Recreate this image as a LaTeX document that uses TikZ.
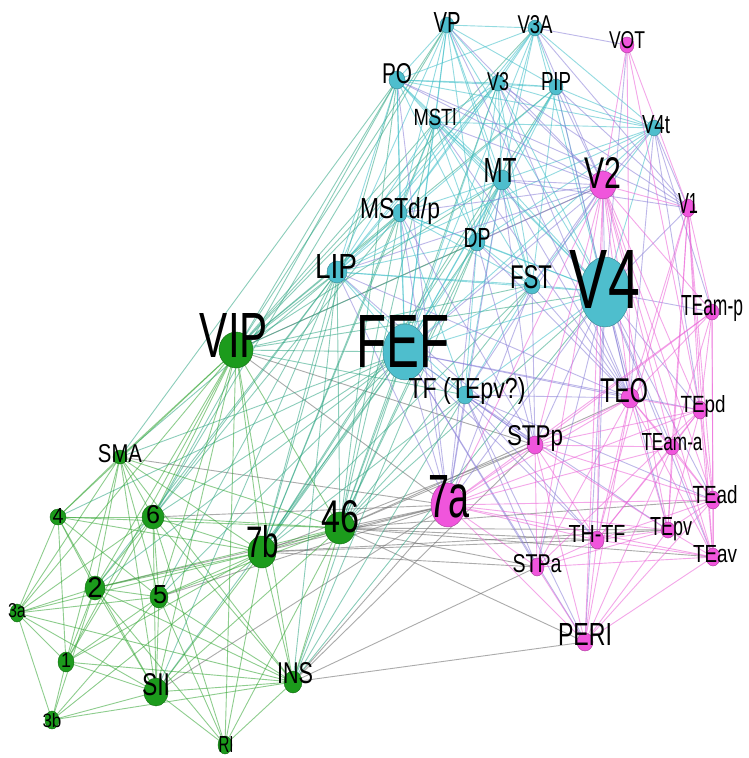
\documentclass[tikz,border=0pt]{standalone}
\usepackage{fontspec}
\setmainfont{Liberation Sans}
\usepackage{graphicx}
\usetikzlibrary{shapes.geometric,backgrounds}
\definecolor{ncyan}{RGB}{78,190,205}
\definecolor{ngreen}{RGB}{28,155,28}
\definecolor{nmag}{RGB}{240,85,220}
\definecolor{cEcc}{RGB}{60,190,200}
\definecolor{cEgg}{RGB}{50,165,50}
\definecolor{cEmm}{RGB}{235,95,215}
\definecolor{cEcg}{RGB}{45,165,130}
\definecolor{cEcm}{RGB}{135,125,215}
\definecolor{cEgm}{RGB}{115,115,115}
\tikzset{
  ar/.style={ellipse, inner sep=0pt, line width=0.4pt},
  nc/.style={ar, fill=ncyan, draw=ncyan!70!black},
  ng/.style={ar, fill=ngreen, draw=ngreen!70!black},
  nm/.style={ar, fill=nmag, draw=nmag!70!black},
  lbl/.style={anchor=base, inner sep=0pt, text=black},
  edgebase/.style={line width=0.9pt, opacity=0.55},
  ecc/.style={edgebase, draw=cEcc},
  egg/.style={edgebase, draw=cEgg},
  emm/.style={edgebase, draw=cEmm},
  ecg/.style={edgebase, draw=cEcg},
  ecm/.style={edgebase, draw=cEcm},
  egm/.style={edgebase, draw=cEgm, opacity=0.6},
}
\newcommand\area[6]{\node[#6, minimum width=#4pt, minimum height=#5pt] (#1) at (#2,#3) {};}
\newcommand\lab[6]{\node[lbl] (#1-l) at (#2,#3) {\resizebox{#4pt}{#5pt}{#6}};}
\begin{document}
\begin{tikzpicture}[x=1pt,y=-1pt]
\useasboundingbox (0,0) rectangle (749,758);
% nodes
\area{VP}{447}{25}{14}{16}{nc}
\area{V3A}{535}{28}{14}{16}{nc}
\area{VOT}{627}{45}{14}{16}{nm}
\area{PO}{397}{80}{16}{18}{nc}
\area{V3}{498}{83}{14}{16}{nc}
\area{PIP}{556}{87}{14}{16}{nc}
\area{MSTl}{435}{122}{12}{14}{nc}
\area{V4t}{654}{128}{14}{16}{nc}
\area{MT}{502}{180}{18}{20}{nc}
\area{V2}{603}{185}{26}{28}{nm}
\area{V1}{688}{208}{14}{18}{nm}
\area{MSTdp}{400}{213}{14}{18}{nc}
\area{DP}{477}{242}{16}{18}{nc}
\area{FST}{532}{285}{16}{18}{nc}
\area{V4}{605}{292}{50}{70}{nc}
\area{TEamp}{712}{312}{14}{16}{nm}
\area{LIP}{337}{272}{20}{22}{nc}
\area{VIP}{236}{350}{34}{36}{ng}
\area{FEF}{405}{352}{44}{56}{nc}
\area{TF}{465}{395}{16}{18}{nc}
\area{TEO}{630}{398}{18}{20}{nm}
\area{TEpd}{700}{410}{14}{18}{nm}
\area{STPp}{535}{445}{16}{18}{nm}
\area{TEama}{672}{447}{14}{16}{nm}
\area{SMA}{120}{457}{14}{14}{ng}
\area{TEad}{713}{500}{14}{18}{nm}
\area{n7a}{448}{505}{34}{44}{nm}
\area{n4}{58}{517}{16}{16}{ng}
\area{n6}{153}{517}{22}{24}{ng}
\area{n46}{340}{528}{30}{32}{ng}
\area{TEpv}{668}{530}{14}{16}{nm}
\area{THTF}{597}{540}{14}{18}{nm}
\area{n7b}{262}{552}{28}{32}{ng}
\area{TEav}{713}{557}{14}{18}{nm}
\area{STPa}{537}{567}{14}{18}{nm}
\area{n2}{95}{588}{20}{24}{ng}
\area{n5}{159}{597}{18}{22}{ng}
\area{n3a}{17}{613}{14}{18}{ng}
\area{PERI}{585}{642}{16}{18}{nm}
\area{n1}{66}{662}{16}{20}{ng}
\area{INS}{293}{682}{18}{22}{ng}
\area{SII}{156}{692}{24}{28}{ng}
\area{n3b}{52}{720}{14}{18}{ng}
\area{RI}{225}{745}{14}{18}{ng}
% labels
\lab{VP}{447}{32}{27}{20}{VP}
\lab{V3A}{535}{33}{35}{18}{V3A}
\lab{VOT}{627}{48}{36}{17}{VOT}
\lab{PO}{397}{83}{30}{20}{PO}
\lab{V3}{498}{90}{22}{18}{V3}
\lab{PIP}{556}{90}{30}{18}{PIP}
\lab{MSTl}{435}{125}{43}{17}{MSTl}
\lab{V4t}{656}{133}{28}{18}{V4t}
\lab{MT}{500}{182}{33}{24}{MT}
\lab{V2}{603}{188}{37}{31}{V2}
\lab{V1}{688}{213}{20}{20}{V1}
\lab{MSTdp}{400}{218}{80}{21}{MSTd/p}
\lab{DP}{477}{247}{27}{19}{DP}
\lab{FST}{531}{288}{42}{23}{FST}
\lab{V4}{605}{308}{70}{58}{V4}
\lab{TEamp}{712}{315}{62}{20}{TEam-p}
\lab{LIP}{336}{278}{42}{24}{LIP}
\lab{VIP}{234}{357}{68}{44}{VIP}
\lab{FEF}{403}{367}{93}{52}{FEF}
\lab{TF}{467}{398}{117}{21}{TF (TEpv?)}
\lab{TEO}{624}{402}{48}{24}{TEO}
\lab{TEpd}{703}{412}{45}{17}{TEpd}
\lab{STPp}{535}{445}{56}{20}{STPp}
\lab{TEama}{672}{450}{61}{17}{TEam-a}
\lab{SMA}{120}{462}{44}{18}{SMA}
\lab{TEad}{715}{503}{45}{18}{TEad}
\lab{n7a}{449}{517}{42}{42}{7a}
\lab{n4}{58}{523}{11}{15}{4}
\lab{n6}{153}{523}{14}{18}{6}
\lab{n46}{341}{532}{38}{32}{46}
\lab{TEpv}{671}{535}{42}{18}{TEpv}
\lab{THTF}{597}{542}{57}{17}{TH-TF}
\lab{n7b}{263}{557}{33}{32}{7b}
\lab{TEav}{715}{562}{44}{17}{TEav}
\lab{STPa}{537}{572}{49}{18}{STPa}
\lab{n2}{95}{597}{15}{20}{2}
\lab{n5}{160}{603}{14}{18}{5}
\lab{n3a}{17}{617}{18}{14}{3a}
\lab{PERI}{585}{645}{54}{22}{PERI}
\lab{n1}{66}{667}{10}{14}{1}
\lab{INS}{295}{683}{36}{21}{INS}
\lab{SII}{156}{695}{28}{22}{SII}
\lab{n3b}{52}{727}{19}{14}{3b}
\lab{RI}{226}{752}{15}{16}{RI}
% edges
\begin{scope}[on background layer]
\fill[white] (0,0) rectangle (749,758);
\foreach \a/\b in {n46/n7a, n46/STPp, n46/STPa, n46/THTF, n46/TEav, n46/TEO, n46/PERI, n46/TEpv,
  n7b/n7a, n7b/STPa, n7b/STPp, n7b/THTF, n7b/TEpv, INS/PERI, INS/STPa, INS/n7a, INS/STPp,
  VIP/n7a, VIP/STPp, VIP/V2, n6/n7a, n5/n7a, SII/n7a, SMA/n7a, n2/n7a, n46/TEad}
  \draw[egm] (\a.center) -- (\b.center);
\foreach \a/\b in {VIP/LIP, VIP/FEF, VIP/MSTdp, VIP/PO, VIP/MT, VIP/DP, VIP/V3A, VIP/VP, VIP/FST, VIP/MSTl,
  VIP/PIP, VIP/V3, VIP/TF, VIP/V4, LIP/n46, LIP/n7b, LIP/n6, LIP/SMA, LIP/n5, LIP/n2, LIP/INS,
  FEF/n46, FEF/n6, FEF/SMA, FEF/n7b, FEF/n5, FEF/n2, FEF/INS, FEF/n4, FEF/SII,
  TF/n46, TF/INS, TF/n7b, MT/n46, PO/n46, PO/n7b, PO/n6, PO/SMA, MSTdp/n46, MSTdp/n7b, MSTdp/n6,
  DP/n46, DP/n7b, FST/n46, FST/n7b, V4/n46, MSTl/n7b, MSTl/n46, VP/n6, V3/n46, PIP/n7b, DP/INS,
  MT/n7b, V4/INS, LIP/SII}
  \draw[ecg] (\a.center) -- (\b.center);
\foreach \a/\b in {VIP/SMA, VIP/n4, VIP/n6, VIP/n2, VIP/n5, VIP/n7b, VIP/n46, VIP/SII, VIP/INS, VIP/n1, VIP/n3a, VIP/RI,
  SMA/n4, SMA/n6, SMA/n2, SMA/n5, SMA/n7b, SMA/n46, SMA/n1, SMA/SII, SMA/INS, SMA/n3a,
  n4/n6, n4/n2, n4/n5, n4/n3a, n4/n7b, n4/SII, n4/n46, n4/n1,
  n6/n46, n6/n7b, n6/n2, n6/n5, n6/SII, n6/n3a, n6/n1, n6/INS, n6/RI,
  n46/n7b, n46/INS, n46/SII, n46/n5, n46/n2, n46/RI,
  n7b/n2, n7b/n5, n7b/SII, n7b/INS, n7b/RI, n7b/n3a, n7b/n1, n7b/n3b,
  n2/n5, n2/n3a, n2/n1, n2/SII, n2/n3b, n2/INS, n2/RI,
  n5/n3a, n5/n1, n5/SII, n5/INS, n5/RI, n5/n3b,
  n3a/n1, n3a/n3b, n3a/SII, n3a/INS, n1/n3b, n1/SII, n1/INS,
  SII/INS, SII/RI, SII/n3b, n3b/INS, INS/RI}
  \draw[egg] (\a.center) -- (\b.center);
\foreach \a/\b in {VP/V3A, VP/PO, VP/V3, VP/MSTl, VP/MT, VP/LIP, VP/DP, VP/MSTdp, VP/FST, VP/V4, VP/PIP, VP/FEF,
  V3A/PO, V3A/V3, V3A/PIP, V3A/MT, V3A/V4t, V3A/DP, V3A/LIP, V3A/V4, V3A/MSTdp, V3A/FEF,
  PO/V3, PO/MSTl, PO/LIP, PO/MSTdp, PO/DP, PO/MT, PO/V4t, PO/V4, PO/FEF, PO/PIP,
  V3/PIP, V3/MT, V3/LIP, V3/MSTdp, V3/DP, V3/FST, V3/V4, V3/V4t, V3/FEF, V3/MSTl,
  PIP/V4t, PIP/MT, PIP/DP, PIP/LIP, PIP/V4, PIP/FST, PIP/FEF,
  MSTl/MT, MSTl/MSTdp, MSTl/LIP, MSTl/FST, MSTl/DP, MSTl/FEF, MSTl/V4, MSTl/V4t,
  V4t/MT, V4t/V4, V4t/FST, V4t/DP, V4t/FEF, V4t/LIP,
  MT/MSTdp, MT/DP, MT/LIP, MT/FST, MT/V4, MT/FEF, MT/TF,
  MSTdp/LIP, MSTdp/DP, MSTdp/FST, MSTdp/FEF, MSTdp/V4, MSTdp/TF,
  DP/LIP, DP/FST, DP/V4, DP/FEF, DP/TF, LIP/FST, LIP/FEF, LIP/V4, LIP/TF,
  FST/V4, FST/FEF, FST/TF, V4/FEF, V4/TF, FEF/TF}
  \draw[ecc] (\a.center) -- (\b.center);
\foreach \a/\b in {V3A/VOT, V3A/V2, VP/V2, V3/V2, PIP/V2, PO/V2, MSTl/V2, V4t/V2, V4t/V1, MT/V2, MT/V1, MT/TEO,
  MT/STPp, DP/V2, DP/TEO, DP/n7a, LIP/n7a, LIP/V2, FST/STPp, FST/TEO, FST/V2, FST/n7a,
  V4/V2, V4/V1, V4/TEO, V4/TEpd, V4/TEamp, V4/TEama, V4/VOT, V4/STPp, V4/THTF, V4/TEpv, V4/PERI,
  V4/TEad, V4/TEav, V4/n7a, V4/STPa, FEF/n7a, FEF/STPp, FEF/TEO, FEF/V2, FEF/STPa, FEF/TEpd,
  FEF/THTF, FEF/PERI, TF/n7a, TF/STPp, TF/TEO, TF/THTF, TF/PERI, TF/STPa, TF/TEpv, TF/TEad, TF/V2,
  MSTdp/n7a, MSTdp/STPp, MSTdp/V2, V3/V1, PIP/V1, V4t/TEO, MT/n7a, PO/n7a, PO/V1, MSTl/TEO,
  V3A/V1, DP/STPp, LIP/STPp, LIP/TEO, V3/TEO, PIP/TEO, V4t/TEpd, V4t/TEamp, VP/TEO}
  \draw[ecm] (\a.center) -- (\b.center);
\foreach \a/\b in {VOT/V2, VOT/V1, VOT/TEO, VOT/TEpd,
  V2/V1, V2/TEO, V2/TEpd, V2/TEamp, V2/STPp, V2/n7a, V2/THTF, V2/TEpv, V2/TEama, V2/PERI, V2/TEad, V2/STPa, V2/TEav,
  V1/TEamp, V1/TEO, V1/TEpd, V1/TEama, V1/TEad, V1/TEav, V1/TEpv, V1/THTF,
  TEamp/TEO, TEamp/TEpd, TEamp/TEama, TEamp/TEad, TEamp/TEav, TEamp/n7a, TEamp/STPp,
  TEO/TEpd, TEO/STPp, TEO/TEama, TEO/n7a, TEO/TEad, TEO/THTF, TEO/TEpv, TEO/TEav, TEO/STPa, TEO/PERI,
  TEpd/TEama, TEpd/TEad, TEpd/TEav, TEpd/TEpv, TEpd/STPp, TEpd/n7a, TEpd/THTF, TEpd/STPa,
  TEama/TEad, TEama/TEpv, TEama/TEav, TEama/STPp, TEama/n7a, TEama/THTF, TEama/PERI,
  STPp/n7a, STPp/STPa, STPp/THTF, STPp/TEad, STPp/TEpv, STPp/PERI,
  n7a/TEad, n7a/TEpv, n7a/THTF, n7a/STPa, n7a/PERI, n7a/TEav,
  TEad/TEpv, TEad/TEav, TEad/THTF, TEad/PERI, THTF/TEpv, THTF/TEav, THTF/STPa, THTF/PERI,
  TEpv/TEav, TEpv/PERI, TEpv/STPa, TEav/PERI, TEav/STPa, STPa/PERI}
  \draw[emm] (\a.center) -- (\b.center);
\end{scope}
\end{tikzpicture}
\end{document}
